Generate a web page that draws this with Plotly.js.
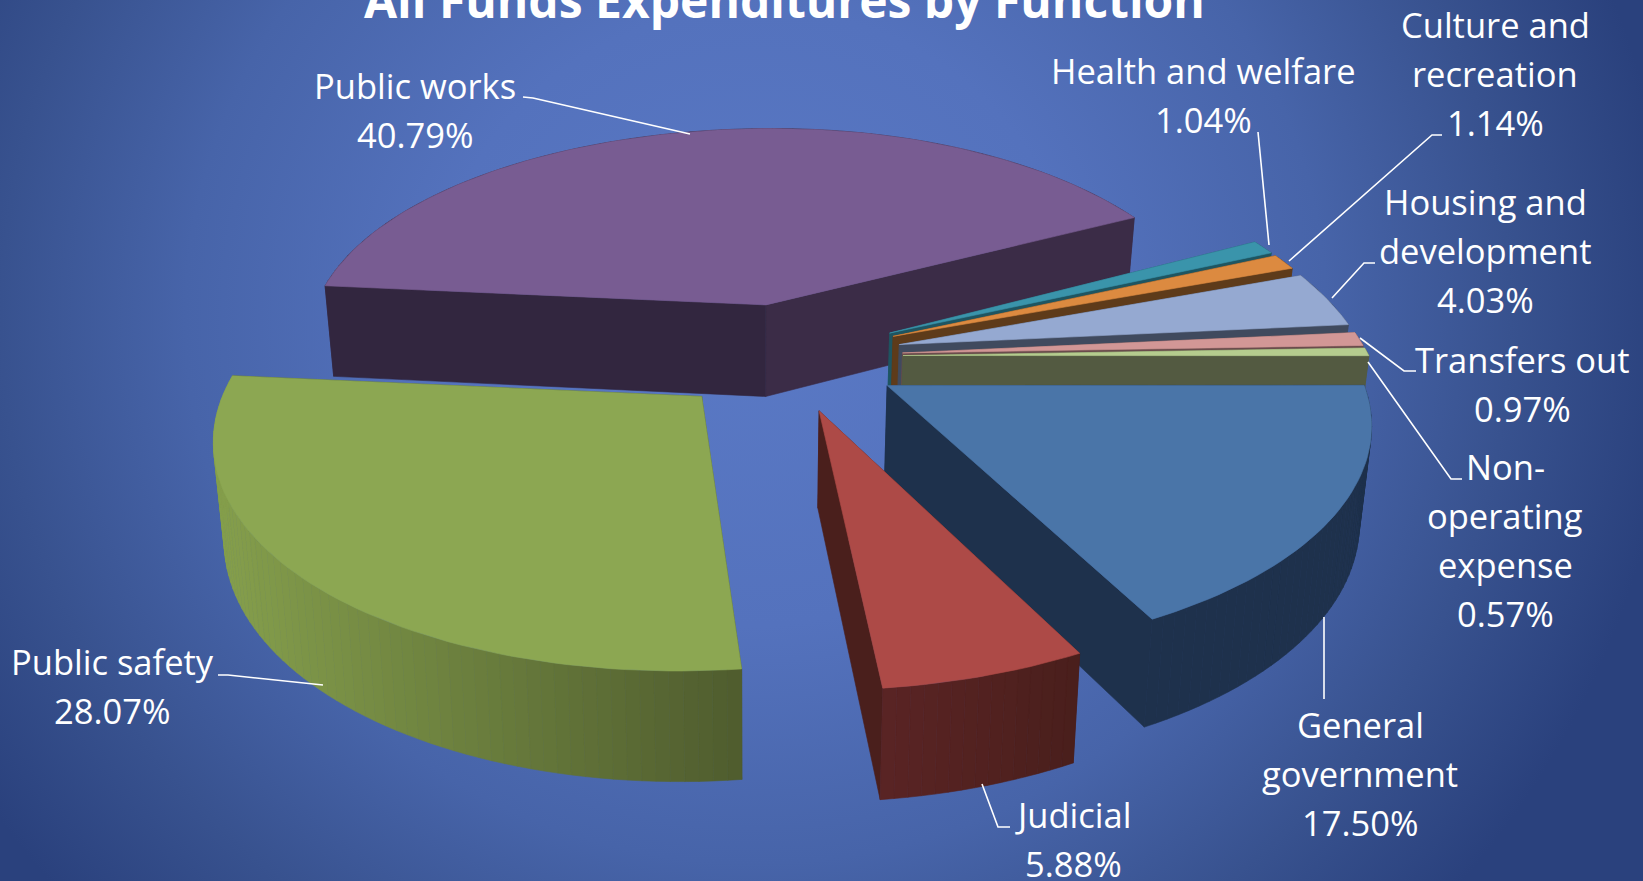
<!DOCTYPE html>
<html><head><meta charset="utf-8">
<script src="https://cdn.plot.ly/plotly-3.0.1.min.js"></script>
<style>
html,body{margin:0;padding:0;width:1643px;height:881px;overflow:hidden;
background:radial-gradient(ellipse 56% 100% at 46% 36%, #5a79c5 0%, #5472bd 35%, #4764a9 62%, #38528f 82%, #2a417d 100%);}
#chart{width:1643px;height:881px;}
</style></head><body><div id="chart"></div>
<script>
// ---- data ----
const categories = ["Public works","Health and welfare","Culture and recreation","Housing and development","Transfers out","Non-operating expense","General government","Judicial","Public safety"];
const labelLines = [["Public works"],["Health and welfare"],["Culture and","recreation"],["Housing and","development"],["Transfers out"],["Non-","operating","expense"],["General","government"],["Judicial"],["Public safety"]];
const values = [40.79,1.04,1.14,4.03,0.97,0.57,17.50,5.88,28.07];
const chartTitle = "All Funds Expenditures by Function";

// ---- styles ----
const topColors  = ["#785c92","#3a94ab","#dc8a40","#95a9d1","#d29796","#b5cc8e","#4a75a8","#ad4a47","#8ca752"];
const wallColors = [["#392b47","#392b47"],["#1e5561","#1e5561"],["#5e3b1a","#5e3b1a"],["#404a5e","#404a5e"],["#6a4c4c","#6a4c4c"],["#535a41","#535a41"],["#1e314c","#1e314c"],["#5a2424","#4a1f1c"],["#859f4c","#4f5c2e"]];
const faceColors = [["#32263f","#3b2c47"],["#1e5561","#1e5561"],["#5e3b1a","#5e3b1a"],["#404a5e","#404a5e"],["#6a4c4c","#6a4c4c"],["#535a41","#535a41"],["#1e314c","#1e314c"],["#4a1f1c","#4a1f1c"],["#4f5c2e","#4f5c2e"]];

// ---- label placement (page pixels): centre x, first line y ----
const labelPos = [[415,85],[1203,70],[1495,24],[1485,201],[1522,359],[1505,466],[1360,724],[1073,814],[112,661]];
const LINE_STEP = 49;
const leaderX = [[523,533,690],[1258,1269],[1442,1432,1289],[1375,1364,1332],[1416,1404,1360],[1462,1451,1368],[1324,1324],[1010,998,982],[218,228,323]];
const leaderY = [[97,98,134],[132,245],[135,135,261],[263,263,298],[371,371,338],[479,479,362],[617,699],[827,827,784],[675,675,685]];

// ---- projection of the exploded 3-D pie onto the page ----
const O = {x:786, y:356.5}, R = 472, EXPLODE = 117.4, K = 0.465, D = 3144, START = -86.9;
const SHEAR = 0.05, ROLL = 0.0175, VX = 755;
function proj(gx, gy, bottom){
  const s = D/(D+gy*(gy>0?1.07:1));
  const sx = D/(D+gy*(gy>0&&gx>0?1.35:1));
  const side = gx<0 ? 0.98 : 0.998;
  let u = O.x + gx*sx*side + SHEAR*gy, v = O.y - gy*K*s + ROLL*gx;
  if(bottom){ const nv = v + 87 + (v-217)*0.052; u = VX + (u-VX)*0.98; v = nv; }
  return [u,v];
}
const total = values.reduce((a,b)=>a+b,0);
const traces = [];
function poly(pts, color){
  traces.push({type:'scatter', mode:'lines', x:pts.map(p=>p[0]).concat(pts[0][0]), y:pts.map(p=>p[1]).concat(pts[0][1]),
    fill:'toself', fillcolor:color, line:{width:0.6, color:color}, hoverinfo:'skip', showlegend:false});
}
function mix(c0,c1,t){
  const p=c=>[1,3,5].map(k=>parseInt(c.substr(k,2),16));
  const a=p(c0),b=p(c1);
  return 'rgb('+a.map((x,i)=>Math.round(x+(b[i]-x)*t)).join(',')+')';
}
let ang = START;
values.forEach((v,i)=>{
  const a0 = ang, a1 = ang + v/total*360; ang = a1;
  const mid = (a0+a1)/2*Math.PI/180;
  const cx = EXPLODE*Math.sin(mid), cy = EXPLODE*Math.cos(mid);
  const arc = [];
  const n = Math.max(6, Math.ceil((a1-a0)/1.5));
  for(let j=0;j<=n;j++){
    const t=(a0+(a1-a0)*j/n)*Math.PI/180;
    arc.push([cx+R*Math.sin(t), cy+R*Math.cos(t)]);
  }
  const apex=[cx,cy], first=arc[0], last=arc[arc.length-1];
  const topP = g=>proj(g[0],g[1],false), botP = g=>proj(g[0],g[1],true);
  const xs = arc.map(g=>topP(g)[0]), xMin=Math.min(...xs), xMax=Math.max(...xs);
  const wall = [];
  for(let j=0;j<n;j++){
    const a=arc[j], b=arc[j+1];
    const pts=[topP(a),topP(b),botP(b),botP(a)];
    const t=((pts[0][0]+pts[1][0])/2-xMin)/Math.max(1,xMax-xMin);
    wall.push({d:(a[1]+b[1])/2, pts, c:mix(wallColors[i][0],wallColors[i][1],t)});
  }
  wall.sort((a,b)=>b.d-a.d);
  const sides = [
    {d:(apex[1]+first[1])/2, list:[{pts:[topP(apex),topP(first),botP(first),botP(apex)], c:faceColors[i][0]}]},
    {d:(apex[1]+last[1])/2,  list:[{pts:[topP(apex),topP(last),botP(last),botP(apex)],  c:faceColors[i][1]}]},
    {d:(first[1]+last[1]+arc[n>>1][1])/3, list:wall}
  ].sort((a,b)=>b.d-a.d);
  sides.forEach(s=>s.list.forEach(q=>poly(q.pts,q.c)));
  poly([topP(apex)].concat(arc.map(topP)), topColors[i]);
});
// leader lines
categories.forEach((c,i)=>{
  traces.push({type:'scatter',mode:'lines',x:leaderX[i],y:leaderY[i],line:{color:'#ffffff',width:1.6},hoverinfo:'skip',showlegend:false});
});
const FONT = '"Open Sans", "Noto Sans", sans-serif';
const annotations = [];
categories.forEach((c,i)=>{
  labelLines[i].concat(values[i].toFixed(2)+'%').forEach((txt,j)=>{
    annotations.push({xref:'x',yref:'y',x:labelPos[i][0],y:labelPos[i][1]+j*LINE_STEP,showarrow:false,
      xanchor:'center',yanchor:'middle',text:txt,font:{family:FONT,size:34.5,color:'#ffffff'}});
  });
});
annotations.push({xref:'x',yref:'paper',x:784,y:1.0011,showarrow:false,xanchor:'center',yanchor:'middle',
  text:'<b>'+chartTitle+'</b>',font:{family:FONT,size:48,color:'#ffffff'}});
Plotly.newPlot('chart',traces,{
  width:1643,height:881,margin:{l:0,r:0,t:0,b:0},
  paper_bgcolor:'rgba(0,0,0,0)',plot_bgcolor:'rgba(0,0,0,0)',showlegend:false,
  xaxis:{range:[0,1643],visible:false,fixedrange:true},
  yaxis:{range:[881,0],visible:false,fixedrange:true},
  annotations
},{displayModeBar:false,staticPlot:true});
</script></body></html>
